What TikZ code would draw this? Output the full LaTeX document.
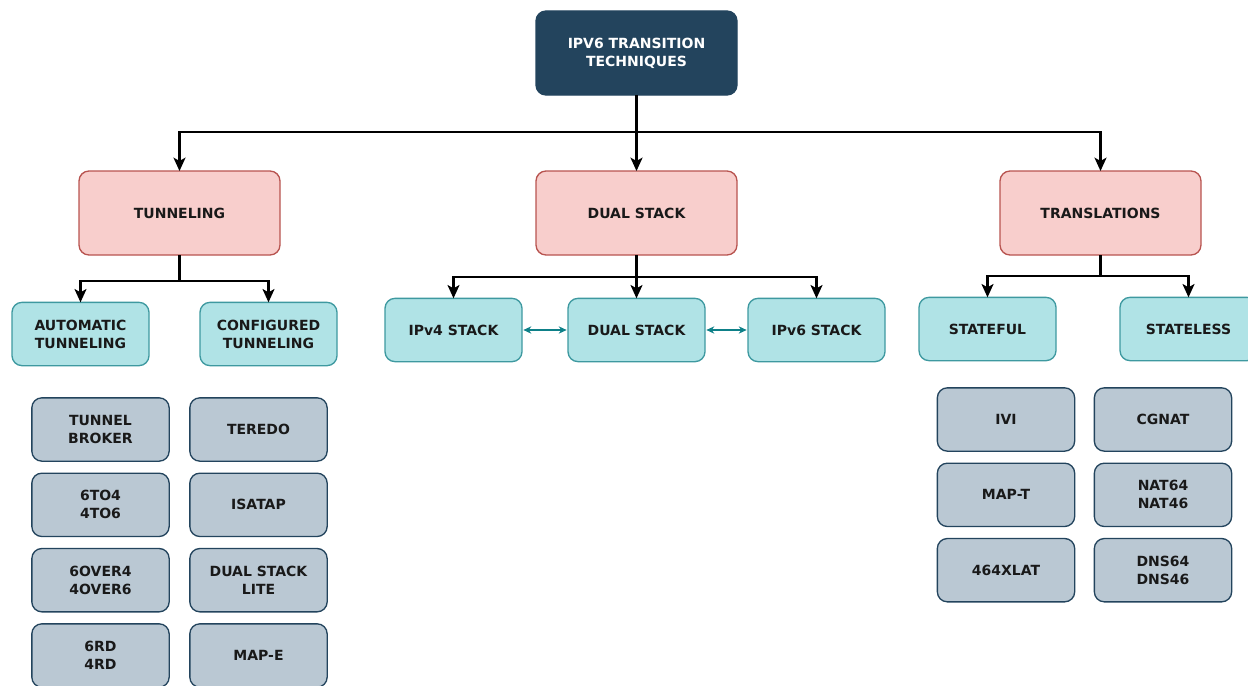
\documentclass[tikz,border=0pt]{standalone}
\usepackage{fontspec}
\setmainfont{DejaVu Sans}
\usepackage{xcolor}
\usetikzlibrary{arrows.meta,positioning}

\definecolor{navy}{HTML}{23445D}
\definecolor{pinkfill}{HTML}{F8CECC}
\definecolor{pinkline}{HTML}{B85450}
\definecolor{tealfill}{HTML}{B0E3E6}
\definecolor{tealline}{HTML}{0E8088}
\definecolor{greyfill}{HTML}{BAC8D3}

\begin{document}
\begin{tikzpicture}[
  x = 0.75pt, y = -0.75pt,
  node distance = 9pt and 12pt,
  box/.style   = {rectangle, rounded corners=7.5pt, align=center,
                  inner sep=0pt, outer sep=0pt, line width=1pt,
                  font=\fontsize{10.5}{13.5}\selectfont\bfseries},
  root/.style  = {box, fill=navy, draw=navy, text=white,
                  minimum width=150.75pt, minimum height=63pt},
  cat/.style   = {box, fill=pinkfill, draw=pinkline, text=black!90,
                  minimum width=150.75pt, minimum height=63pt},
  sub/.style   = {box, fill=tealfill, draw=tealline!80, text=black!90,
                  minimum width=102.75pt, minimum height=47.5pt},
  tech/.style  = {box, fill=greyfill, draw=navy, text=black!90,
                  minimum width=103pt, minimum height=47.5pt},
  arr/.style   = {-{Stealth[length=10pt,width=9pt,inset=2.5pt]}, line width=1.6pt},
  link/.style  = {{Stealth[length=6pt,width=5.5pt]}-{Stealth[length=6pt,width=5.5pt]},
                  draw=tealline, line width=0.9pt, shorten <=1pt, shorten >=1pt}
]
\useasboundingbox (0,0) rectangle (1248,685);

% ───────── top ─────────
\node[root] (root) at (636.5,53) {IPV6 TRANSITION\\TECHNIQUES};

% ───────── categories ─────────
\node[cat] (tun)   at (179.5,213)  {TUNNELING};
\node[cat] (dual)  at (636.5,213)  {DUAL STACK};
\node[cat] (trans) at (1100.5,213) {TRANSLATIONS};

% ───────── tunneling ─────────
\node[sub] (auto) at (80.5,334)  {AUTOMATIC\\TUNNELING};
\node[sub] (conf) at (268.5,334) {CONFIGURED\\TUNNELING};

\node[tech] (broker) at (100.5,429.5) {TUNNEL\\BROKER};
\node[tech, below=of broker] (sixto4)  {6TO4\\4TO6};
\node[tech, below=of sixto4] (sixover) {6OVER4\\4OVER6};
\node[tech, below=of sixover] (sixrd)  {6RD\\4RD};

\node[tech] (teredo) at (258.5,429.5) {TEREDO};
\node[tech, below=of teredo] (isatap) {ISATAP};
\node[tech, below=of isatap] (dslite) {DUAL STACK\\LITE};
\node[tech, below=of dslite] (mape)   {MAP-E};

% ───────── dual stack ─────────
\node[sub] (v4)   at (453.5,330) {IPv4 STACK};
\node[sub] (ds)   at (636.5,330) {DUAL STACK};
\node[sub] (v6)   at (816.5,330) {IPv6 STACK};

% ───────── translations ─────────
\node[sub] (sful) at (987.5,329)  {STATEFUL};
\node[sub] (sless) at (1188.5,329) {STATELESS};

\node[tech] (ivi)   at (1006,419.5) {IVI};
\node[tech, below=of ivi] (mapt)  {MAP-T};
\node[tech, below=of mapt] (xlat) {464XLAT};

\node[tech] (cgnat) at (1163,419.5) {CGNAT};
\node[tech, below=of cgnat] (nat64) {NAT64\\NAT46};
\node[tech, below=of nat64] (dns64) {DNS64\\DNS46};

% ───────── arrows ──────────
\draw[arr] (root) -- (dual);
\draw[arr] (root.south) -- ++(0,37) -| (tun.north);
\draw[arr] (root.south) -- ++(0,37) -| (trans.north);

\draw[arr] (tun.south) -- ++(0,26) -| (auto.north);
\draw[arr] (tun.south) -- ++(0,26) -| (conf.north);

\draw[arr] (dual) -- (ds);
\draw[arr] (dual.south) -- ++(0,22) -| (v4.north);
\draw[arr] (dual.south) -- ++(0,22) -| (v6.north);

\draw[arr] (trans.south) -- ++(0,21) -| (sful.north);
\draw[arr] (trans.south) -- ++(0,21) -| (sless.north);

\draw[link] (v4) -- (ds);
\draw[link] (ds) -- (v6);

\end{tikzpicture}
\end{document}
